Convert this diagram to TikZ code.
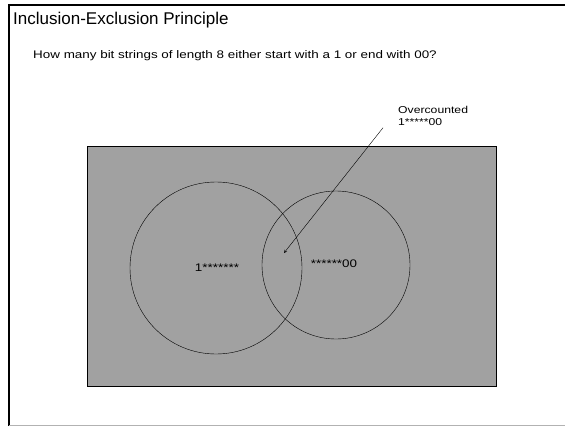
\documentclass[tikz,border=0pt]{standalone}
\usepackage{fontspec}
\setmainfont{Liberation Sans}
\newfontfamily\widefont{Liberation Sans}[FakeStretch=1.22]
\usetikzlibrary{positioning}
\begin{document}
\begin{tikzpicture}[
  x=1pt, y=-1pt,
  every node/.style={inner sep=0pt, font=\widefont\fontsize{11}{14}\selectfont},
  title/.style={anchor=base west, font=\fontsize{17}{20}\selectfont},
  note/.style={align=left, anchor=north west, font=\widefont\fontsize{10}{12}\selectfont},
  setcircle/.style={draw, thin},
  pointer/.style={draw, -stealth, thin}
]
\useasboundingbox (0,0) rectangle (565,426);
\draw[line width=2pt] (9,426) -- (9,5) -- (565,5);
\draw[gray!60, line width=1pt] (9,425) -- (565,425);
\node[title] (head) at (13,24) {Inclusion-Exclusion Principle};
\node[anchor=base west] (question) at (33,58) {How many bit strings of length 8 either start with a 1 or end with 00?};
\draw[fill=black!37, line width=0.8pt] (87,146) rectangle (496,386);
\draw[setcircle] (216,268) circle (86);
\draw[setcircle] (336,265) circle (74);
\node (left) at (217,268) {1*******};
\node (right) at (334,264) {******00};
\node[note] (over) at (398,106) {Overcounted\\1*****00};
\coordinate (overlap) at (284,253);
\draw[pointer] (over.south west) ++(-15,2) coordinate (tail) -- (overlap);
\end{tikzpicture}
\end{document}
